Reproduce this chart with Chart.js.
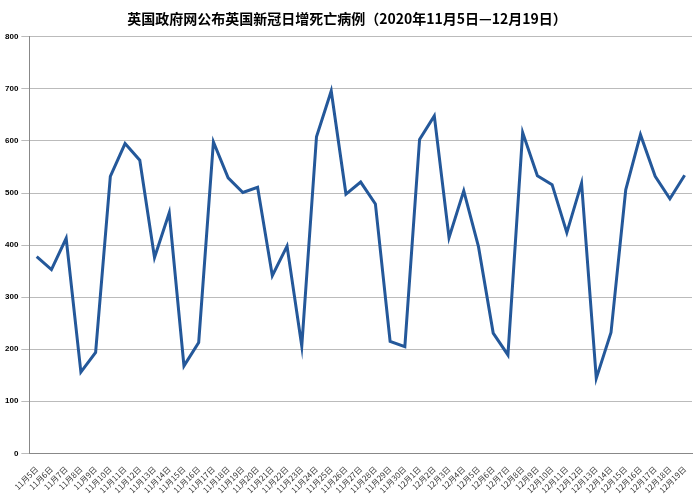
<!DOCTYPE html>
<html>
<head>
<meta charset="utf-8">
<script src="https://cdn.jsdelivr.net/npm/chart.js@4"></script>
<style>
  body { margin: 0; background: #fff; }
  #wrap { width: 700px; height: 500px; }
</style>
</head>
<body>
<div id="wrap"><canvas id="chart"></canvas></div>
<script>
const dates = [];
for (let d = 5; d <= 30; d++) dates.push("11月" + d + "日");
for (let d = 1; d <= 19; d++) dates.push("12月" + d + "日");

const deaths = [378, 353, 413, 156, 194, 532, 595, 563, 376, 462, 168, 213, 598, 529, 501,
  511, 341, 398, 206, 608, 696, 498, 521, 479, 215, 205, 603, 648, 414, 504,
  397, 231, 189, 616, 533, 516, 424, 519, 144, 232, 506, 612, 532, 489, 534];

new Chart(document.getElementById("chart"), {
  type: "line",
  data: {
    labels: dates,
    datasets: [{
      data: deaths,
      borderColor: "#24589a",
      borderWidth: 3,
      pointRadius: 0,
      tension: 0,
      fill: false
    }]
  },
  options: {
    responsive: true,
    maintainAspectRatio: false,
    animation: false,
    layout: { padding: { left: 2, right: 8, top: 4, bottom: 2 } },
    plugins: {
      legend: { display: false },
      tooltip: { enabled: false },
      title: {
        display: true,
        text: "英国政府网公布英国新冠日增死亡病例（2020年11月5日—12月19日）",
        color: "#000",
        font: { family: "Noto Sans CJK SC", size: 14, weight: "bold" },
        padding: { top: 6, bottom: 10 }
      }
    },
    scales: {
      x: {
        offset: true,
        grid: { display: false, drawTicks: true },
        border: { color: "#888" },
        ticks: {
          autoSkip: false,
          maxRotation: 45,
          minRotation: 45,
          color: "#333",
          font: { family: "Noto Sans CJK SC", size: 8 }
        }
      },
      y: {
        min: 0,
        max: 800,
        ticks: {
          stepSize: 100,
          color: "#000",
          font: { family: "Liberation Sans", size: 8, weight: "bold" }
        },
        grid: { color: "#bbb" },
        border: { color: "#888" }
      }
    }
  }
});
</script>
</body>
</html>
